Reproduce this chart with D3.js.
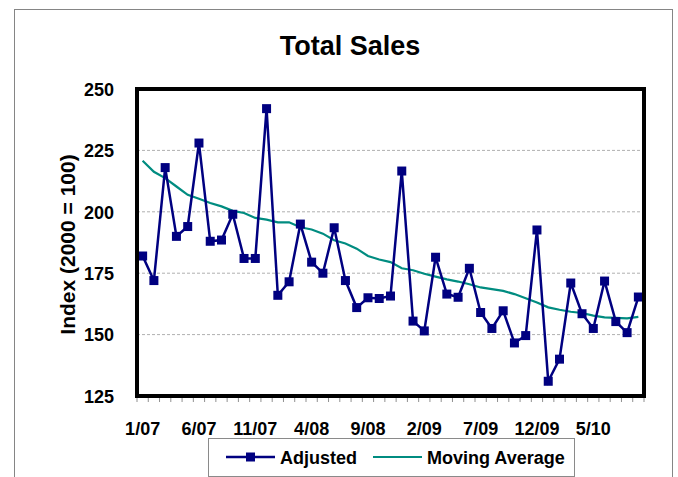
<!DOCTYPE html>
<html>
<head>
<meta charset="utf-8">
<script src="https://cdn.jsdelivr.net/npm/d3@7"></script>
<style>
  body { margin: 0; background: #fff; }
  svg text { font-family: Arial, "Liberation Sans", sans-serif; font-weight: bold; fill: #000; }
</style>
</head>
<body>
<div id="chart"></div>
<script>
// months shown on the category axis
var months = ["1/07","2/07","3/07","4/07","5/07","6/07","7/07","8/07","9/07","10/07","11/07","12/07",
              "1/08","2/08","3/08","4/08","5/08","6/08","7/08","8/08","9/08","10/08","11/08","12/08",
              "1/09","2/09","3/09","4/09","5/09","6/09","7/09","8/09","9/09","10/09","11/09","12/09",
              "1/10","2/10","3/10","4/10","5/10","6/10","7/10","8/10","9/10"];

// seasonally adjusted index
var adjusted = [182, 172, 218, 190, 194, 228, 188, 188.5, 199, 181, 181, 242,
                166, 171.5, 195, 179.5, 175, 193.5, 172, 161, 165, 164.7, 165.7, 216.6,
                155.5, 151.5, 181.5, 166.5, 165.2, 177, 159, 152.5, 159.7, 146.6, 149.6, 192.6,
                131, 140, 171, 158.5, 152.5, 171.8, 155.3, 150.8, 165.3];

// moving average
var movingAvg = [220.8, 216.3, 213.7, 210.3, 206.9, 205.3, 203.6, 202.2, 200.4, 199.5, 197.5, 196.8,
                 195.7, 195.7, 193.7, 192.8, 191.1, 188.4, 187.1, 185, 182, 180.6, 179.5, 177,
                 176.2, 174.8, 173.6, 172.5, 171.6, 170.5, 169.2, 168.5, 167.8, 166.5, 164.8, 163.1,
                 161.1, 160.1, 159.3, 158.8, 157.7, 157, 156.8, 156.6, 157.2];

var xLabels = ["1/07","6/07","11/07","4/08","9/08","2/09","7/09","12/09","5/10"];
var yTicks = [125, 150, 175, 200, 225, 250];
var seriesNames = ["Adjusted", "Moving Average"];

var width = 678;
var height = 477;
var plot = {left: 137, top: 89, right: 644, bottom: 396};

var svg = d3.select("#chart").append("svg")
    .attr("width", width)
    .attr("height", height);

// outer chart border
svg.append("rect")
    .attr("x", 14.5).attr("y", 9.5)
    .attr("width", 658).attr("height", 480)
    .style("fill", "none")
    .style("stroke", "#858585")
    .style("stroke-width", 1);

var x = d3.scaleBand()
    .domain(months)
    .range([plot.left, plot.right]);

var y = d3.scaleLinear()
    .domain([125, 250])
    .range([plot.bottom, plot.top]);

function cx(m) { return x(m) + x.bandwidth() / 2; }

// title
svg.append("text")
    .attr("x", 350).attr("y", 55)
    .attr("text-anchor", "middle")
    .style("font-size", "27px")
    .text("Total Sales");

// gridlines
svg.append("g").selectAll("line")
    .data(yTicks.filter(function(t) { return t > 125 && t < 250; }))
    .enter().append("line")
    .attr("x1", plot.left).attr("x2", plot.right)
    .attr("y1", function(d) { return y(d); })
    .attr("y2", function(d) { return y(d); })
    .style("stroke", "#b0b0b0")
    .style("stroke-width", 1)
    .style("stroke-dasharray", "3,2");

// small ticks under the category axis
var tickPos = months.map(function(m) { return x(m); });
tickPos.push(plot.right);
svg.append("g").selectAll("line")
    .data(tickPos)
    .enter().append("line")
    .attr("x1", function(d) { return d; })
    .attr("x2", function(d) { return d; })
    .attr("y1", plot.bottom + 2).attr("y2", plot.bottom + 6)
    .style("stroke", "#909090")
    .style("stroke-width", 1);

// y axis labels
var yAxis = d3.axisLeft(y).tickValues(yTicks).tickSize(0).tickPadding(0);
var yG = svg.append("g")
    .attr("transform", "translate(" + (plot.left - 23) + ",0)")
    .call(yAxis);
yG.select(".domain").remove();
yG.selectAll("text")
    .style("font-size", "18px")
    .attr("dy", "0.35em");

// x axis labels
var xAxis = d3.axisBottom(x).tickValues(xLabels).tickSize(0).tickPadding(0);
var xG = svg.append("g")
    .attr("transform", "translate(0," + (plot.bottom + 39) + ")")
    .call(xAxis);
xG.select(".domain").remove();
xG.selectAll("text")
    .style("font-size", "18px")
    .attr("dy", 0);

// y axis title
svg.append("text")
    .attr("transform", "translate(75," + ((plot.top + plot.bottom) / 2 + 2) + ") rotate(-90)")
    .attr("text-anchor", "middle")
    .style("font-size", "21px")
    .text("Index (2000 = 100)");

// moving average line
var maLine = d3.line()
    .x(function(d, i) { return cx(months[i]); })
    .y(function(d) { return y(d); });

svg.append("path")
    .datum(movingAvg)
    .attr("d", maLine)
    .style("fill", "none")
    .style("stroke", "#008C80")
    .style("stroke-width", 2.2);

// adjusted line + markers
svg.append("path")
    .datum(adjusted)
    .attr("d", maLine)
    .style("fill", "none")
    .style("stroke", "#000080")
    .style("stroke-width", 2.5);

svg.append("g").selectAll("rect")
    .data(adjusted)
    .enter().append("rect")
    .attr("x", function(d, i) { return cx(months[i]) - 4.5; })
    .attr("y", function(d) { return y(d) - 4.5; })
    .attr("width", 9).attr("height", 9)
    .style("fill", "#000080");

// plot frame
svg.append("rect")
    .attr("x", plot.left).attr("y", plot.top)
    .attr("width", plot.right - plot.left)
    .attr("height", plot.bottom - plot.top)
    .style("fill", "none")
    .style("stroke", "#000")
    .style("stroke-width", 4);

// legend
var legend = svg.append("g");
legend.append("rect")
    .attr("x", 208.5).attr("y", 438.5)
    .attr("width", 366).attr("height", 38)
    .style("fill", "#fff")
    .style("stroke", "#8a8a8a")
    .style("stroke-width", 1);

var ly = 457;
legend.append("line")
    .attr("x1", 226).attr("x2", 275).attr("y1", ly).attr("y2", ly)
    .style("stroke", "#000080").style("stroke-width", 2.5);
legend.append("rect")
    .attr("x", 246).attr("y", ly - 4.5).attr("width", 9).attr("height", 9)
    .style("fill", "#000080");
legend.append("text")
    .attr("x", 280).attr("y", ly + 6.5)
    .style("font-size", "18px")
    .text(seriesNames[0]);

legend.append("line")
    .attr("x1", 373).attr("x2", 422).attr("y1", ly).attr("y2", ly)
    .style("stroke", "#008C80").style("stroke-width", 2.2);
legend.append("text")
    .attr("x", 427).attr("y", ly + 6.5)
    .style("font-size", "18px")
    .text(seriesNames[1]);
</script>
</body>
</html>
